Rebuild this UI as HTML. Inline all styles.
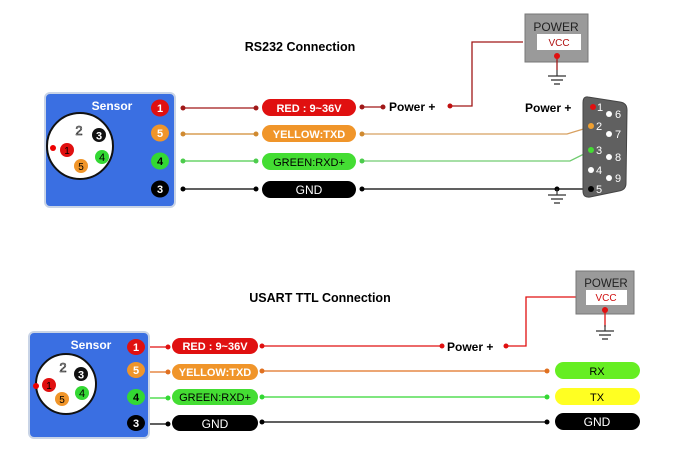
<!DOCTYPE html>
<html><head><style>
body{margin:0;background:#fff}
svg{display:block;font-family:"Liberation Sans",sans-serif}
</style></head><body>
<svg width="680" height="450" viewBox="0 0 680 450" xmlns="http://www.w3.org/2000/svg">
<defs>
<g id="gnd"><line x1="0" y1="0" x2="0" y2="6" stroke="#333" stroke-width="1.2"/><line x1="-9" y1="6" x2="9" y2="6" stroke="#333" stroke-width="1.3"/><line x1="-6" y1="10" x2="6" y2="10" stroke="#333" stroke-width="1.3"/><line x1="-3" y1="14" x2="3" y2="14" stroke="#333" stroke-width="1.3"/></g>
</defs>
<!-- TOP -->
<text x="300" y="51" font-size="12.5" font-weight="bold" text-anchor="middle">RS232 Connection</text>
<rect x="45" y="93" width="130" height="114" rx="5" fill="#3a6fe2" stroke="#c9d4e6" stroke-width="2"/>
<text x="112" y="110" font-size="12" font-weight="bold" fill="#fff" text-anchor="middle">Sensor</text>
<circle cx="80" cy="146" r="33" fill="#fff" stroke="#111" stroke-width="2"/>
<circle cx="53" cy="148" r="3" fill="#e00"/>
<text x="79" y="135" font-size="13" text-anchor="middle" stroke="#000" stroke-width="0.6" fill="#fff">2</text>
<circle cx="99" cy="135" r="7" fill="#111"/><text x="99" y="139.5" font-size="11" font-weight="bold" fill="#fff" text-anchor="middle">3</text>
<circle cx="67" cy="150" r="7" fill="#e01010"/><text x="67" y="154" font-size="10" fill="#000" text-anchor="middle">1</text>
<circle cx="102" cy="157" r="7" fill="#33d833"/><text x="102" y="161" font-size="11" fill="#000" text-anchor="middle">4</text>
<circle cx="81" cy="166" r="7" fill="#f0952a"/><text x="81" y="170" font-size="10" fill="#000" text-anchor="middle">5</text>
<g font-size="11" font-weight="bold" text-anchor="middle" fill="#fff">
<ellipse cx="160" cy="108" rx="9" ry="8.5" fill="#e01010"/><text x="160" y="112">1</text>
<ellipse cx="160" cy="133" rx="9" ry="8.5" fill="#f0952a"/><text x="160" y="137">5</text>
<ellipse cx="160" cy="161" rx="9" ry="8.5" fill="#33d833"/><text x="160" y="165" fill="#000">4</text>
<ellipse cx="160" cy="189" rx="9" ry="8.5" fill="#000"/><text x="160" y="193">3</text>
</g>
<g stroke-width="1.3">
<line x1="183" y1="108" x2="256" y2="108" stroke="#a01818"/>
<line x1="183" y1="134" x2="256" y2="134" stroke="#d08a30"/>
<line x1="183" y1="161" x2="256" y2="161" stroke="#4ccc4c"/>
<line x1="183" y1="189" x2="256" y2="189" stroke="#000"/>
<line x1="362" y1="107" x2="383" y2="107" stroke="#a01818"/>
<polyline points="450,106 472,106 472,42 523,42" fill="none" stroke="#a01818"/>
<polyline points="362,134 567,134 590,127" fill="none" stroke="#d8a060"/>
<polyline points="362,161 570,161 590,151" fill="none" stroke="#70cc70"/>
<line x1="362" y1="189" x2="590" y2="189" stroke="#000"/>
</g>
<g>
<circle cx="183" cy="108" r="2.5" fill="#a01818"/><circle cx="256" cy="108" r="2.5" fill="#a01818"/><circle cx="362" cy="107" r="2.5" fill="#a01818"/><circle cx="383" cy="107" r="2.5" fill="#a01818"/><circle cx="450" cy="106" r="2.5" fill="#c01010"/>
<circle cx="183" cy="134" r="2.5" fill="#d08a30"/><circle cx="256" cy="134" r="2.5" fill="#d08a30"/><circle cx="362" cy="134" r="2.5" fill="#d08a30"/>
<circle cx="183" cy="161" r="2.5" fill="#4ccc4c"/><circle cx="256" cy="161" r="2.5" fill="#4ccc4c"/><circle cx="362" cy="161" r="2.5" fill="#4ccc4c"/>
<circle cx="183" cy="189" r="2.5" fill="#000"/><circle cx="256" cy="189" r="2.5" fill="#000"/><circle cx="362" cy="189" r="2.5" fill="#000"/><circle cx="557" cy="189" r="2.5" fill="#000"/>
</g>
<g font-size="11" text-anchor="middle">
<rect x="262" y="99" width="94" height="17" rx="8.5" fill="#e01010"/><text x="309" y="112" fill="#fff" font-weight="bold">RED : 9~36V</text>
<rect x="262" y="125" width="94" height="17" rx="8.5" fill="#f0952a"/><text x="309" y="138" fill="#fff" font-weight="bold">YELLOW:TXD</text>
<rect x="262" y="153" width="94" height="17" rx="8.5" fill="#44dd33"/><text x="309" y="166" fill="#000">GREEN:RXD+</text>
<rect x="262" y="181" width="94" height="17" rx="8.5" fill="#000"/><text x="309" y="194" fill="#fff" font-size="12">GND</text>
</g>
<text x="389" y="111" font-size="12" font-weight="bold">Power +</text>
<text x="525" y="112" font-size="12" font-weight="bold">Power +</text>
<rect x="525" y="14" width="63" height="48" fill="#9a9a9a" stroke="#777"/>
<text x="556" y="31" font-size="12" text-anchor="middle" fill="#222">POWER</text>
<rect x="537" y="34" width="44" height="16" fill="#fff"/>
<text x="559" y="46" font-size="10" text-anchor="middle" fill="#b01010">VCC</text>
<line x1="557" y1="56" x2="557" y2="70" stroke="#a01818" stroke-width="1.3"/><circle cx="557" cy="56" r="3" fill="#e01010"/>
<use href="#gnd" x="557" y="70"/>
<use href="#gnd" x="557" y="189"/>
<path d="M588,97 L620,102 Q627,103 627,110 L626,183 Q626,190 619,191 L590,197 Q583,198 583,191 L583,103 Q583,96 588,97 Z" fill="#606060" stroke="#444"/>
<g font-size="11" fill="#fff">
<circle cx="593" cy="107" r="3" fill="#e01010"/><text x="597" y="111">1</text>
<circle cx="591" cy="126" r="3" fill="#f0a030"/><text x="596" y="130">2</text>
<circle cx="591" cy="150" r="3" fill="#44dd33"/><text x="596" y="154">3</text>
<circle cx="591" cy="170" r="3" fill="#fff"/><text x="596" y="174">4</text>
<circle cx="591" cy="189" r="3" fill="#000"/><text x="596" y="193">5</text>
<circle cx="609" cy="114" r="3" fill="#fff"/><text x="615" y="118">6</text>
<circle cx="609" cy="134" r="3" fill="#fff"/><text x="615" y="138">7</text>
<circle cx="609" cy="157" r="3" fill="#fff"/><text x="615" y="161">8</text>
<circle cx="609" cy="178" r="3" fill="#fff"/><text x="615" y="182">9</text>
</g>
<!-- BOTTOM -->
<text x="320" y="302" font-size="12.5" font-weight="bold" text-anchor="middle">USART TTL Connection</text>
<rect x="29" y="332" width="120" height="106" rx="5" fill="#3a6fe2" stroke="#c9d4e6" stroke-width="2"/>
<text x="91" y="349" font-size="12" font-weight="bold" fill="#fff" text-anchor="middle">Sensor</text>
<circle cx="66" cy="384" r="30" fill="#fff" stroke="#111" stroke-width="2"/>
<circle cx="36" cy="386" r="3" fill="#e00"/>
<text x="63" y="372" font-size="13" text-anchor="middle" stroke="#000" stroke-width="0.6" fill="#fff">2</text>
<circle cx="81" cy="374" r="7" fill="#111"/><text x="81" y="378.5" font-size="11" font-weight="bold" fill="#fff" text-anchor="middle">3</text>
<circle cx="49" cy="385" r="7" fill="#e01010"/><text x="49" y="389" font-size="10" fill="#000" text-anchor="middle">1</text>
<circle cx="82" cy="393" r="7" fill="#33d833"/><text x="82" y="397" font-size="11" fill="#000" text-anchor="middle">4</text>
<circle cx="62" cy="399" r="7" fill="#f0952a"/><text x="62" y="403" font-size="10" fill="#000" text-anchor="middle">5</text>
<g font-size="11" font-weight="bold" text-anchor="middle" fill="#fff">
<ellipse cx="136" cy="347" rx="9" ry="8" fill="#e01010"/><text x="136" y="351">1</text>
<ellipse cx="136" cy="370" rx="9" ry="8" fill="#f0952a"/><text x="136" y="374">5</text>
<ellipse cx="136" cy="397" rx="9" ry="8" fill="#33d833"/><text x="136" y="401" fill="#000">4</text>
<ellipse cx="136" cy="423" rx="9" ry="8" fill="#000"/><text x="136" y="427">3</text>
</g>
<g stroke-width="1.3">
<line x1="150" y1="347" x2="168" y2="347" stroke="#e01010"/>
<line x1="150" y1="372" x2="168" y2="372" stroke="#e07020"/>
<line x1="150" y1="398" x2="168" y2="398" stroke="#33d833"/>
<line x1="150" y1="424" x2="168" y2="424" stroke="#000"/>
<line x1="262" y1="346" x2="442" y2="346" stroke="#e01010"/>
<polyline points="506,346 526,346 526,297 583,297" fill="none" stroke="#e01010"/>
<line x1="262" y1="371" x2="547" y2="371" stroke="#e07020"/>
<line x1="262" y1="397" x2="547" y2="397" stroke="#33d833"/>
<line x1="262" y1="422" x2="547" y2="422" stroke="#000"/>
</g>
<g>
<circle cx="168" cy="347" r="2.5" fill="#e01010"/><circle cx="262" cy="346" r="2.5" fill="#e01010"/><circle cx="442" cy="346" r="2.5" fill="#e01010"/><circle cx="506" cy="346" r="2.5" fill="#e01010"/>
<circle cx="168" cy="372" r="2.5" fill="#e07020"/><circle cx="262" cy="371" r="2.5" fill="#e07020"/><circle cx="547" cy="371" r="2.5" fill="#e07020"/>
<circle cx="168" cy="398" r="2.5" fill="#33d833"/><circle cx="262" cy="397" r="2.5" fill="#33d833"/><circle cx="547" cy="397" r="2.5" fill="#33d833"/>
<circle cx="168" cy="424" r="2.5" fill="#000"/><circle cx="262" cy="422" r="2.5" fill="#000"/><circle cx="547" cy="422" r="2.5" fill="#000"/>
</g>
<g font-size="11" text-anchor="middle">
<rect x="172" y="338" width="86" height="16" rx="8" fill="#e01010"/><text x="215" y="350" fill="#fff" font-weight="bold">RED : 9~36V</text>
<rect x="172" y="364" width="86" height="16" rx="8" fill="#f0952a"/><text x="215" y="376" fill="#fff" font-weight="bold">YELLOW:TXD</text>
<rect x="172" y="389" width="86" height="16" rx="8" fill="#44dd33"/><text x="215" y="401" fill="#000">GREEN:RXD+</text>
<rect x="172" y="415" width="86" height="16" rx="8" fill="#000"/><text x="215" y="428" fill="#fff" font-size="12">GND</text>
<rect x="555" y="362" width="85" height="17" rx="8.5" fill="#66ee22"/><text x="597" y="375" fill="#000">RX</text>
<rect x="555" y="388" width="85" height="17" rx="8.5" fill="#ffff22"/><text x="597" y="401" fill="#000">TX</text>
<rect x="555" y="413" width="85" height="17" rx="8.5" fill="#000"/><text x="597" y="426" fill="#fff" font-size="12">GND</text>
</g>
<text x="447" y="351" font-size="12" font-weight="bold">Power +</text>
<rect x="576" y="271" width="58" height="43" fill="#9a9a9a" stroke="#777"/>
<text x="606" y="287" font-size="11.5" text-anchor="middle" fill="#222">POWER</text>
<rect x="586" y="290" width="41" height="15" fill="#fff"/>
<text x="606" y="301" font-size="10" text-anchor="middle" fill="#d01010">VCC</text>
<line x1="605" y1="310" x2="605" y2="327" stroke="#e01010" stroke-width="1.3"/><circle cx="605" cy="310" r="3" fill="#e01010"/>
<use href="#gnd" x="605" y="325"/>
</svg>
</body></html>
